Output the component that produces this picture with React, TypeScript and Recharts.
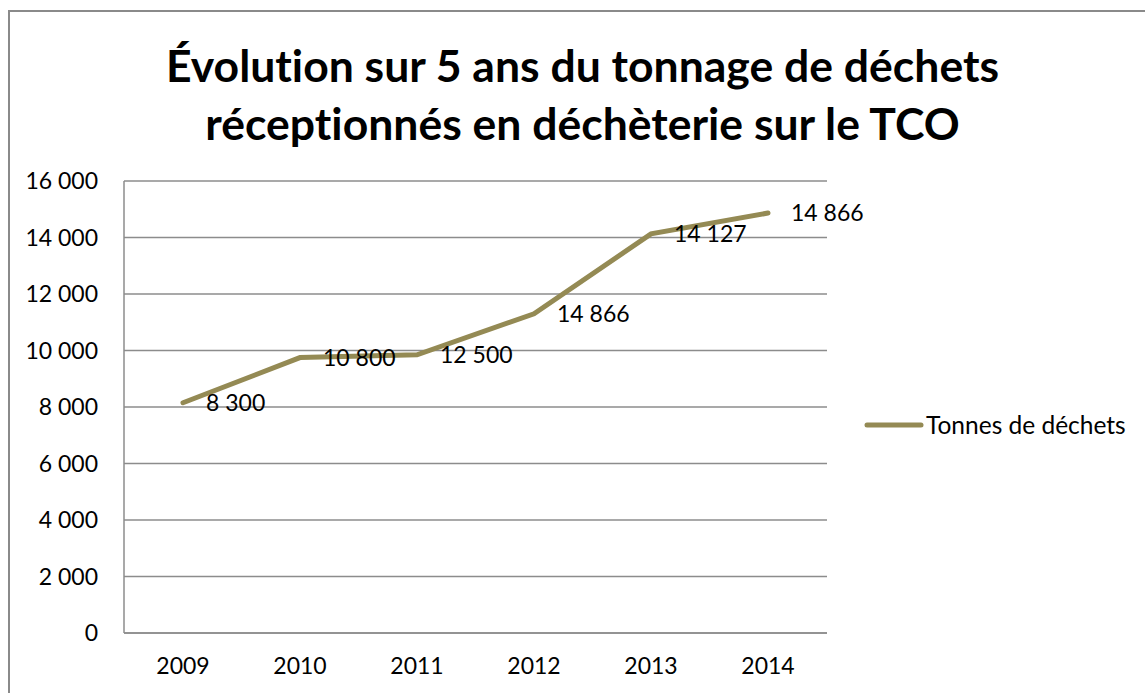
import { LineChart, Line, XAxis, YAxis, CartesianGrid, LabelList } from "recharts";

const years = ["2009", "2010", "2011", "2012", "2013", "2014"];
const tonnes = [8150, 9750, 9850, 11300, 14127, 14866];
// the labels printed next to each point in the original chart
const pointLabels = ["8 300", "10 800", "12 500", "14 866", "14 127", "14 866"];
const yTicks = [0, 2000, 4000, 6000, 8000, 10000, 12000, 14000, 16000];

const titleLines = [
  "Évolution sur 5 ans du tonnage de déchets",
  "réceptionnés en déchèterie sur le TCO",
];
const seriesName = "Tonnes de déchets";

const data = years.map((year, i) => ({ year, tonnes: tonnes[i], label: pointLabels[i] }));

const FONT = "Lato, 'Open Sans', sans-serif";
const LINE_COLOR = "#948A54";
const GRID_COLOR = "#8c8c8c";

const fmt = (v: number) => (v >= 1000 ? `${Math.floor(v / 1000)} ${String(v % 1000).padStart(3, "0")}` : String(v));

const PointLabel = (props: any) => {
  const { x, y, index } = props;
  return (
    <text x={x + 23} y={y} dy="0.355em" textAnchor="start" fontSize={23} fontFamily={FONT} fill="#000">
      {pointLabels[index]}
    </text>
  );
};

// legend drawn outside the chart so it doesn't eat into the plot offset
const SeriesLegend = () => (
  <div
    style={{
      position: "absolute", left: 864, top: 411, display: "flex", alignItems: "center",
      fontFamily: FONT, fontSize: 24.5, color: "#000", lineHeight: "28px",
    }}
  >
    <svg width={60} height={10} style={{ display: "block" }}>
      <line x1={3} y1={5} x2={57} y2={5} stroke={LINE_COLOR} strokeWidth={5} strokeLinecap="round" />
    </svg>
    <span style={{ marginLeft: 2 }}>{seriesName}</span>
  </div>
);

export default function App() {
  return (
    <div style={{ position: "absolute", left: 0, top: 0, width: 1145, height: 693, background: "#fff", overflow: "hidden" }}>
      <div
        style={{
          position: "absolute", left: 8, top: 10, width: 1200, height: 760,
          borderTop: "2px solid #8a8a8a", borderLeft: "2px solid #8a8a8a", boxSizing: "border-box",
        }}
      />
      <div
        style={{
          position: "absolute", left: 0, width: 1165, top: 36, textAlign: "center",
          fontFamily: FONT, fontWeight: 700, fontSize: 44.5, lineHeight: "58px", color: "#000",
          fontVariantLigatures: "none",
        }}
      >
        {titleLines.map((t) => (
          <div key={t}>{t}</div>
        ))}
      </div>
      <div style={{ position: "absolute", left: 0, top: 0 }}>
        <LineChart width={1145} height={693} data={data} margin={{ top: 181, right: 318, bottom: 0, left: 24 }}>
          <CartesianGrid vertical={false} stroke={GRID_COLOR} strokeWidth={1.5} />
          <XAxis
            dataKey="year"
            padding={{ left: 59, right: 59 }}
            height={60}
            tickSize={0}
            tickMargin={25}
            axisLine={{ stroke: GRID_COLOR, strokeWidth: 1.5 }}
            tickLine={false}
            tick={{ fontSize: 23, fontFamily: FONT, fill: "#000" }}
          />
          <YAxis
            domain={[0, 16000]}
            ticks={yTicks}
            width={100}
            tickSize={0}
            tickMargin={26}
            tickFormatter={fmt}
            axisLine={{ stroke: GRID_COLOR, strokeWidth: 1.5 }}
            tickLine={false}
            tick={{ fontSize: 23, fontFamily: FONT, fill: "#000" }}
          />
          <Line
            type="linear"
            dataKey="tonnes"
            name={seriesName}
            stroke={LINE_COLOR}
            strokeWidth={5}
            strokeLinecap="round"
            dot={false}
            isAnimationActive={false}
          >
            <LabelList dataKey="label" content={<PointLabel />} />
          </Line>
        </LineChart>
      </div>
      <SeriesLegend />
    </div>
  );
}
